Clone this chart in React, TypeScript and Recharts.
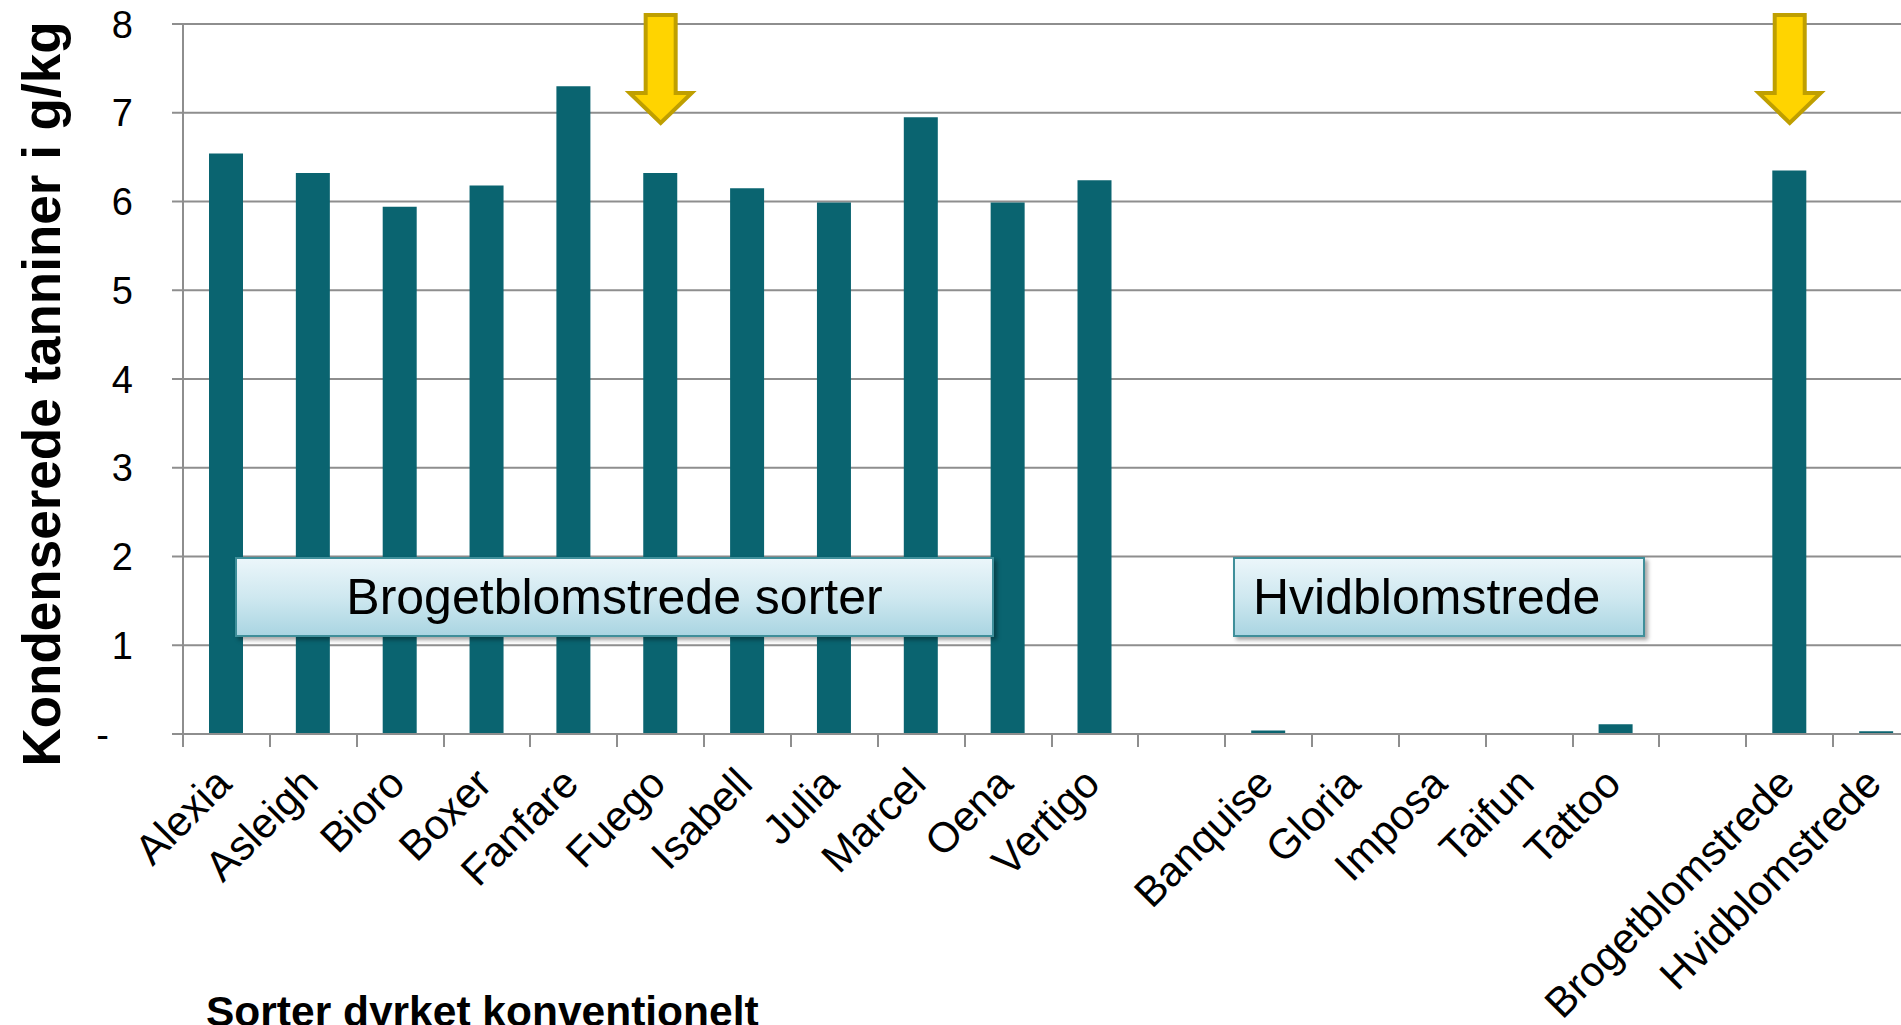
import React from 'react';
import { BarChart, Bar, XAxis, YAxis, CartesianGrid, ReferenceDot } from 'recharts';

// blank spacer categories use distinct whitespace names so the category scale stays unique
const categories = [
  'Alexia', 'Asleigh', 'Bioro', 'Boxer', 'Fanfare', 'Fuego', 'Isabell', 'Julia', 'Marcel', 'Oena', 'Vertigo',
  ' ',
  'Banquise', 'Gloria', 'Imposa', 'Taifun', 'Tattoo',
  '  ',
  'Brogetblomstrede', 'Hvidblomstrede',
];
const tannin = [6.54, 6.32, 5.94, 6.18, 7.3, 6.32, 6.15, 5.99, 6.95, 5.99, 6.24, null, 0.04, 0, 0, 0, 0.11, null, 6.35, 0.03];
const yTicks = [0, 1, 2, 3, 4, 5, 6, 7, 8];
const arrowAt = ['Fuego', 'Brogetblomstrede'];

const yTitle = 'Kondenserede tanniner i g/kg';
const xTitle = 'Sorter dyrket konventionelt';
const boxLeft = 'Brogetblomstrede sorter';
const boxRight = 'Hvidblomstrede';

const data = categories.map((name, i) => ({ name, value: tannin[i] }));

const FONT = '"Liberation Sans", Arial, sans-serif';
const GRID = '#8e8e8e';
const BAR = '#0a6470';

const CHART_W = 1925;
const CHART_H = 1025;
const Y_W = 183;
const MARGIN = { top: 24, right: 5, left: 0, bottom: 0 };
const BAND = (CHART_W - MARGIN.right - MARGIN.left - Y_W) / categories.length;

const CatTick = (props: any) => {
  const { x, y, payload } = props;
  const bx = Math.round(x - BAND / 2);
  return (
    <g>
      <line x1={bx} y1={y} x2={bx} y2={y + 13} stroke={GRID} strokeWidth={2} />
      <text
        x={x + 7}
        y={y + 52}
        textAnchor="end"
        transform={`rotate(-45, ${x + 7}, ${y + 52})`}
        fontSize={42}
        fontFamily={FONT}
        fill="#000"
      >
        {payload.value.trim()}
      </text>
    </g>
  );
};

const ValTick = (props: any) => {
  const { x, y, payload } = props;
  const zero = payload.value === 0;
  return (
    <text x={zero ? x - 24 : x} y={y} dy="0.36em" textAnchor="end" fontSize={38} fontFamily={FONT} fill="#000">
      {zero ? '-' : payload.value}
    </text>
  );
};

const Arrow = (props: any) => {
  const { cx, cy } = props;
  const top = cy - 9;
  const neck = cy + 69;
  const tip = cy + 99;
  const d = `M${cx - 15},${top} L${cx + 15},${top} L${cx + 15},${neck} L${cx + 31},${neck} L${cx},${tip} L${cx - 31},${neck} L${cx - 15},${neck} Z`;
  return <path d={d} fill="#ffd400" stroke="#bf9f00" strokeWidth={4} strokeLinejoin="miter" />;
};

const YTitle = (props: any) => {
  const { viewBox } = props;
  const cy = viewBox.y + viewBox.height / 2 + 15;
  return (
    <text
      x={60}
      y={cy}
      textAnchor="middle"
      transform={`rotate(-90, 60, ${cy})`}
      fontSize={53}
      fontWeight="bold"
      fontFamily={FONT}
      fill="#000"
    >
      {yTitle}
    </text>
  );
};

const XTitle = (props: any) => {
  const { viewBox } = props;
  return (
    <text x={viewBox.x + 23} y={viewBox.y + 292} fontSize={42.5} fontWeight="bold" fontFamily={FONT} fill="#000">
      {xTitle}
    </text>
  );
};

const boxStyle: React.CSSProperties = {
  position: 'absolute',
  top: 557,
  height: 80,
  boxSizing: 'border-box',
  border: '2px solid #3f8f9a',
  background: 'linear-gradient(to bottom, #ebf6fa 0%, #cfe8f0 50%, #aad5e2 100%)',
  boxShadow: '3px 3px 4px rgba(0,0,0,0.35)',
  fontFamily: FONT,
  fontSize: 50,
  color: '#000',
  display: 'flex',
  alignItems: 'center',
  whiteSpace: 'nowrap',
};

export default function App() {
  return (
    <div style={{ position: 'absolute', left: 0, top: 0, width: 1901, height: 1025, overflow: 'hidden', background: '#fff' }}>
      <BarChart width={CHART_W} height={CHART_H} data={data} margin={MARGIN}>
        <CartesianGrid vertical={false} stroke={GRID} strokeWidth={2} />
        <XAxis
          dataKey="name"
          interval={0}
          height={CHART_H - 734}
          axisLine={{ stroke: GRID, strokeWidth: 2 }}
          tickLine={false}
          tickSize={0}
          tickMargin={0}
          tick={<CatTick />}
          label={(p: any) => <XTitle {...p} />}
        />
        <YAxis
          width={Y_W}
          domain={[0, 8]}
          ticks={yTicks}
          interval={0}
          axisLine={{ stroke: GRID, strokeWidth: 2 }}
          tickLine={{ stroke: GRID, strokeWidth: 2 }}
          tickSize={11}
          tickMargin={39}
          tick={<ValTick />}
          label={(p: any) => <YTitle {...p} />}
        />
        <Bar dataKey="value" fill={BAR} barSize={34} isAnimationActive={false} />
        {arrowAt.map((c) => (
          <ReferenceDot key={c} x={c} y={8} r={1} ifOverflow="visible" shape={(p: any) => <Arrow {...p} />} />
        ))}
      </BarChart>
      <div style={{ ...boxStyle, left: 235, width: 759, justifyContent: 'center' }}>{boxLeft}</div>
      <div style={{ ...boxStyle, left: 1233, width: 412, paddingLeft: 18 }}>{boxRight}</div>
    </div>
  );
}
